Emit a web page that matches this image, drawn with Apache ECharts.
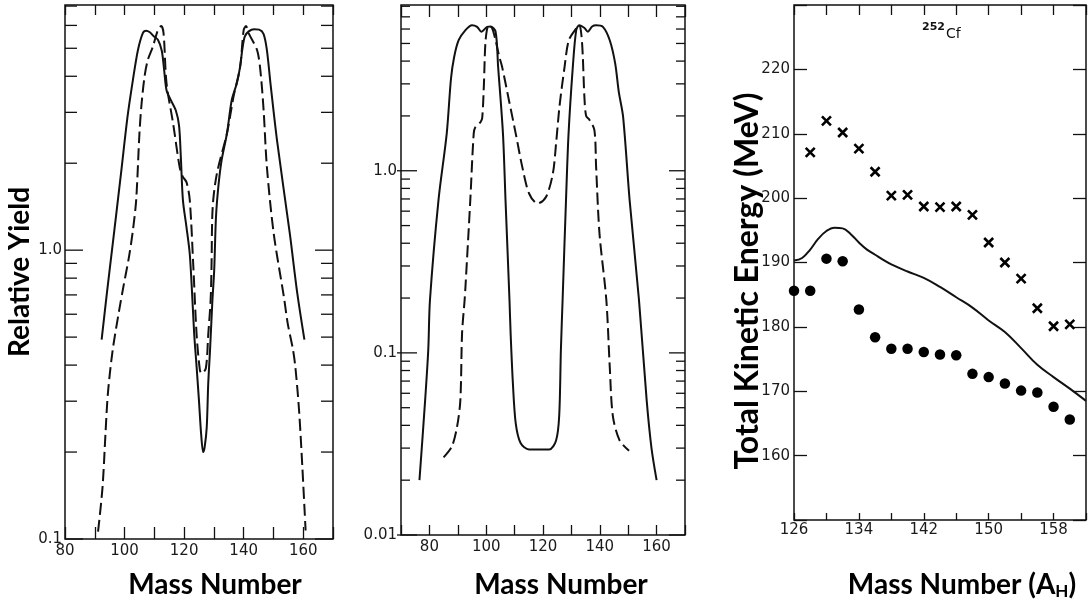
<!DOCTYPE html>
<html><head><meta charset="utf-8">
<script src="https://cdn.jsdelivr.net/npm/echarts@6/dist/echarts.min.js"></script>
<style>html,body{margin:0;padding:0;background:#fff}#c{width:1089px;height:601px}</style>
</head><body><div id="c"></div>
<script>
// ---------- Panel 1 (relative yield, log scale 0.1 .. 7) ----------
const p1Solid = [[92.3,0.49],[94.0,0.70],[96.3,1.11],[98.8,1.84],[101.0,2.90],[102.8,3.88],[104.5,4.93],[106.1,5.63],[107.2,5.75],[108.5,5.68],[109.8,5.5],[111.2,5.35],[112.5,4.9],[113.3,4.2],[114.1,3.58],[115.6,3.3],[117.2,3.05],[118.3,2.7],[118.9,2.1],[119.6,1.49],[120.8,1.2],[121.9,0.97],[122.8,0.67],[123.4,0.51],[124.2,0.394],[125.0,0.30],[125.7,0.232],[126.4,0.20],[126.9,0.208],[127.6,0.244],[128.1,0.345],[128.7,0.45],[129.5,0.67],[130.1,0.85],[130.7,1.30],[131.5,1.66],[132.6,2.05],[134.4,2.54],[136.0,3.31],[137.7,3.78],[138.8,4.31],[139.6,5.0],[140.4,5.5],[141.7,5.72],[143.5,5.82],[145.2,5.8],[146.7,5.6],[147.8,4.93],[149.0,3.78],[151.2,2.40],[155.5,1.14],[158.0,0.71],[160.4,0.49]];
const p1Dashed = [[91.1,0.106],[92.6,0.151],[93.6,0.232],[94.4,0.319],[96.0,0.45],[98.2,0.62],[99.6,0.746],[101.5,0.95],[102.8,1.17],[103.9,1.49],[105.0,2.54],[105.7,3.2],[106.7,3.98],[107.8,4.55],[109.5,5.06],[111.2,5.78],[112.3,5.97],[113.1,5.63],[114.1,3.78],[116.3,2.75],[118.5,1.94],[119.5,1.8],[120.8,1.72],[121.9,1.49],[123.1,0.875],[124.2,0.51],[125.3,0.384],[125.9,0.374],[127.3,0.39],[128.1,0.51],[128.9,0.67],[129.2,0.875],[129.6,1.41],[131.0,1.84],[134.4,2.54],[136.6,3.40],[138.8,4.31],[140.0,5.78],[140.8,5.97],[141.7,5.63],[144.5,4.93],[145.6,4.20],[146.7,3.05],[147.8,1.94],[150.1,1.14],[153.5,0.69],[154.8,0.557],[156.6,0.45],[157.4,0.39],[158.6,0.279],[159.7,0.178],[160.8,0.107]];
const p1MajorTicks = [0.1, 1];
const p1MinorTicks = [0.2,0.3,0.4,0.5,0.6,0.7,0.8,0.9,2,3,4,5,6,7];
const p1Labels = {'0.1':'0.1','1':'1.0'};

// ---------- Panel 2 (relative yield, log scale 0.01 .. 8) ----------
const p2Solid = [[76.5,0.02],[78.5,0.055],[79.6,0.104],[80.2,0.195],[83.2,0.69],[86.1,1.60],[87.6,3.2],[88.7,4.2],[90.3,5.21],[92.7,5.92],[95.0,6.3],[96.8,6.17],[98.3,5.8],[100.3,6.17],[101.5,6.2],[103.3,5.8],[104.2,3.72],[105.9,1.60],[106.8,0.69],[108.2,0.195],[108.6,0.128],[109.4,0.068],[110.4,0.041],[112.1,0.032],[115.1,0.0295],[122.2,0.0295],[124.6,0.033],[125.7,0.045],[126.3,0.104],[126.9,0.195],[128.1,0.69],[129.0,1.60],[130.5,3.72],[131.7,5.92],[132.8,6.3],[134.5,6.1],[135.8,5.8],[137.3,6.2],[138.7,6.3],[141.1,6.17],[143.5,5.21],[145.4,3.9],[146.7,2.7],[148.2,1.98],[150.5,0.69],[153.8,0.195],[156.5,0.055],[158.2,0.03],[160,0.02]];
const p2Dashed = [[85.0,0.0267],[87.9,0.0306],[89.7,0.039],[90.9,0.055],[91.5,0.128],[92.4,0.195],[92.7,0.231],[94.4,0.69],[95.6,1.60],[96.2,1.74],[98.0,1.85],[98.6,1.95],[99.2,3.0],[99.8,5.21],[100.9,6.3],[102.1,6.05],[103.3,5.2],[104.5,4.3],[105.6,3.72],[108,2.44],[110.4,1.60],[112.7,1.05],[115.1,0.75],[118.1,0.66],[121.1,0.72],[123.5,0.97],[124.6,1.41],[125.8,2.25],[127.6,3.72],[129.1,5.21],[131.7,6.05],[132.8,6.3],[133.5,5.6],[134.0,4.3],[134.6,2.5],[135.2,2.0],[136.4,1.90],[138.1,1.67],[138.7,1.05],[139.9,0.45],[142.3,0.195],[143.5,0.084],[144.6,0.045],[147,0.033],[150.3,0.029]];
const p2MajorTicks = [0.01, 0.1, 1];
const p2MinorTicks = [0.02,0.03,0.04,0.05,0.06,0.07,0.08,0.09,0.2,0.3,0.4,0.5,0.6,0.7,0.8,0.9,2,3,4,5,6,7,8];
const p2Labels = {'0.01':'0.01','0.1':'0.1','1':'1.0'};

// ---------- Panel 3 (total kinetic energy, 252Cf) ----------
const crossMass = [128,130,132,134,136,138,140,142,144,146,148,150,152,154,156,158,160];
const crossTKE  = [207.1,212.0,210.2,207.7,204.1,200.4,200.5,198.7,198.6,198.7,197.4,193.1,190.0,187.5,182.9,180.1,180.4];
const dotMass = [126,128,130,132,134,136,138,140,142,144,146,148,150,152,154,156,158,160];
const dotTKE  = [185.6,185.6,190.6,190.2,182.7,178.4,176.6,176.6,176.1,175.7,175.6,172.7,172.2,171.2,170.1,169.8,167.6,165.6];
const curveMass = [126,127,128,129,130,131,132,133,134,135,136,137,138,140,142,144,146,148,150,152,154,156,158,160,162];
const curveTKE  = [190.3,190.7,192.0,193.7,194.9,195.4,195.3,194.4,193.1,192.0,191.2,190.4,189.7,188.6,187.6,186.2,184.6,183.0,181.0,179.2,176.7,174.1,172.2,170.4,168.5];
const p3XLabels = [126,134,142,150,158];
const p3YLabels = [160,170,180,190,200,210,220];

const INK = '#111';
const tickFont = {fontFamily:'DejaVu Sans', fontSize:15, color:'#1a1a1a'};
const titleFont = 'Lato';

function logLabel(map){
  return function(v){
    for (const k in map){ if (Math.abs(Math.log10(v) - Math.log10(+k)) < 1e-6) return map[k]; }
    return '';
  };
}
function makeTickRender(len, outLeft){
  return function(params, api){
    const cs = params.coordSys;
    const y = api.coord([api.value(0), api.value(1)])[1];
    const st = {stroke: INK, lineWidth: 1.3};
    return {type:'group', children:[
      {type:'line', shape:{x1:cs.x - outLeft, y1:y, x2:cs.x + len, y2:y}, style:st},
      {type:'line', shape:{x1:cs.x + cs.width, y1:y, x2:cs.x + cs.width - len, y2:y}, style:st}
    ]};
  };
}

const grids = [
  {left:65, top:5, width:268, height:534},
  {left:401, top:5, width:284, height:530},
  {left:794, top:5, width:300, height:515}
].map(g => Object.assign(g, {show:true, borderColor:INK, borderWidth:1.5, backgroundColor:'transparent'}));

const baseX = (gi, min, max, interval, pos, fmt, tickLen, margin) => ({
  gridIndex: gi, type:'value', min, max, interval, position: pos,
  axisLine:{show:false}, splitLine:{show:false},
  axisTick:{show:true, inside:true, length:tickLen, lineStyle:{color:INK, width:1.3}},
  axisLabel: pos === 'bottom' ? Object.assign({show:true, margin, formatter:fmt}, tickFont) : {show:false}
});

const lineCommon = {type:'line', showSymbol:false, smooth:0.3, silent:true};

const option = {
  animation:false,
  backgroundColor:'#fff',
  grid: grids,
  xAxis: [
    baseX(0, 80, 170, 10, 'bottom', v => (v % 20 === 0 && v <= 160) ? String(v) : '', 12, 5),
    baseX(0, 80, 170, 10, 'top', null, 10),
    baseX(1, 70, 170, 10, 'bottom', v => (v % 20 === 0 && v >= 80 && v <= 160) ? String(v) : '', 10, 5),
    baseX(1, 70, 170, 10, 'top', null, 12),
    baseX(2, 126, 162, 4, 'bottom', v => p3XLabels.indexOf(v) >= 0 ? String(v) : '', 7, 3),
    baseX(2, 126, 162, 4, 'top', null, 10)
  ],
  yAxis: [
    {gridIndex:0, type:'log', min:0.1, max:7.06, axisLine:{show:false}, splitLine:{show:false}, axisTick:{show:false},
     axisLabel:Object.assign({margin:3, formatter:logLabel(p1Labels), showMinLabel:true}, tickFont)},
    {gridIndex:1, type:'log', min:0.01, max:8.13, axisLine:{show:false}, splitLine:{show:false}, axisTick:{show:false},
     axisLabel:Object.assign({margin:4, formatter:logLabel(p2Labels), showMinLabel:true}, tickFont)},
    {gridIndex:2, type:'value', min:150, max:230, interval:10, axisLine:{show:false}, splitLine:{show:false},
     axisTick:{show:true, inside:true, length:13, lineStyle:{color:INK, width:1.3}},
     axisLabel:Object.assign({margin:4, formatter: v => p3YLabels.indexOf(v) >= 0 ? String(v) : ''}, tickFont)},
    {gridIndex:2, type:'value', min:150, max:230, interval:10, position:'right', axisLine:{show:false}, splitLine:{show:false},
     axisTick:{show:true, inside:true, length:13, lineStyle:{color:INK, width:1.3}}, axisLabel:{show:false}}
  ],
  series: [
    Object.assign({}, lineCommon, {xAxisIndex:0, yAxisIndex:0, data:p1Solid, lineStyle:{color:INK, width:2}}),
    Object.assign({}, lineCommon, {xAxisIndex:0, yAxisIndex:0, data:p1Dashed, lineStyle:{color:INK, width:2, type:[12,5]}}),
    {type:'custom', xAxisIndex:0, yAxisIndex:0, data:p1MajorTicks.map(v => [120, v]), renderItem:makeTickRender(18, 0), silent:true},
    {type:'custom', xAxisIndex:0, yAxisIndex:0, data:p1MinorTicks.map(v => [120, v]), renderItem:makeTickRender(12, 0), silent:true},

    Object.assign({}, lineCommon, {xAxisIndex:2, yAxisIndex:1, data:p2Solid, lineStyle:{color:INK, width:2}}),
    Object.assign({}, lineCommon, {xAxisIndex:2, yAxisIndex:1, data:p2Dashed, lineStyle:{color:INK, width:2, type:[12,5]}}),
    {type:'custom', xAxisIndex:2, yAxisIndex:1, data:p2MajorTicks.map(v => [120, v]), renderItem:makeTickRender(16, 4), silent:true},
    {type:'custom', xAxisIndex:2, yAxisIndex:1, data:p2MinorTicks.map(v => [120, v]), renderItem:makeTickRender(9, 0), silent:true},

    Object.assign({}, lineCommon, {xAxisIndex:4, yAxisIndex:2, data:curveMass.map((m,i) => [m, curveTKE[i]]), smooth:0.4, lineStyle:{color:INK, width:2}}),
    {type:'scatter', xAxisIndex:4, yAxisIndex:2, data:crossMass.map((m,i) => [m, crossTKE[i]]), silent:true,
     symbol:'path://M0,0L10,10M10,0L0,10', symbolSize:9,
     itemStyle:{color:'transparent', borderColor:'#000', borderWidth:2.6, opacity:1}},
    {type:'scatter', xAxisIndex:4, yAxisIndex:2, data:dotMass.map((m,i) => [m, dotTKE[i]]), silent:true,
     symbol:'circle', symbolSize:10.5, itemStyle:{color:'#000', opacity:1}}
  ],
  graphic: [
    {type:'text', x:20, y:272, rotation:Math.PI/2, style:{text:'Relative Yield', font:'bold 28px '+titleFont, fill:'#000', align:'center', verticalAlign:'middle'}},
    {type:'text', x:215, y:585, style:{text:'Mass Number', font:'bold 28px '+titleFont, fill:'#000', align:'center', verticalAlign:'middle'}},
    {type:'text', x:561, y:585, style:{text:'Mass Number', font:'bold 28px '+titleFont, fill:'#000', align:'center', verticalAlign:'middle'}},
    {type:'text', x:748, y:281, rotation:Math.PI/2, style:{text:'Total Kinetic Energy (MeV)', font:'bold 32px '+titleFont, fill:'#000', align:'center', verticalAlign:'middle'}},
    {type:'text', x:962, y:585, style:{text:'{a|Mass Number (A}{s|H}{a|)}', align:'center', verticalAlign:'middle',
      rich:{a:{fontFamily:titleFont, fontWeight:'bold', fontSize:28, fill:'#000'}, s:{fontFamily:titleFont, fontWeight:'bold', fontSize:17, fill:'#000', padding:[14,0,0,0]}}}},
    {type:'text', x:922, y:31, style:{text:'{a|252}{b|Cf}', verticalAlign:'middle',
      rich:{a:{fontFamily:'DejaVu Sans', fontWeight:'bold', fontSize:11, fill:'#111', padding:[0,1,8,0]}, b:{fontFamily:'DejaVu Sans', fontSize:14, fill:'#111', padding:[7,0,0,0]}}}}
  ]
};
const chart = echarts.init(document.getElementById('c'), null, {renderer:'canvas'});
chart.setOption(option);
</script></body></html>
